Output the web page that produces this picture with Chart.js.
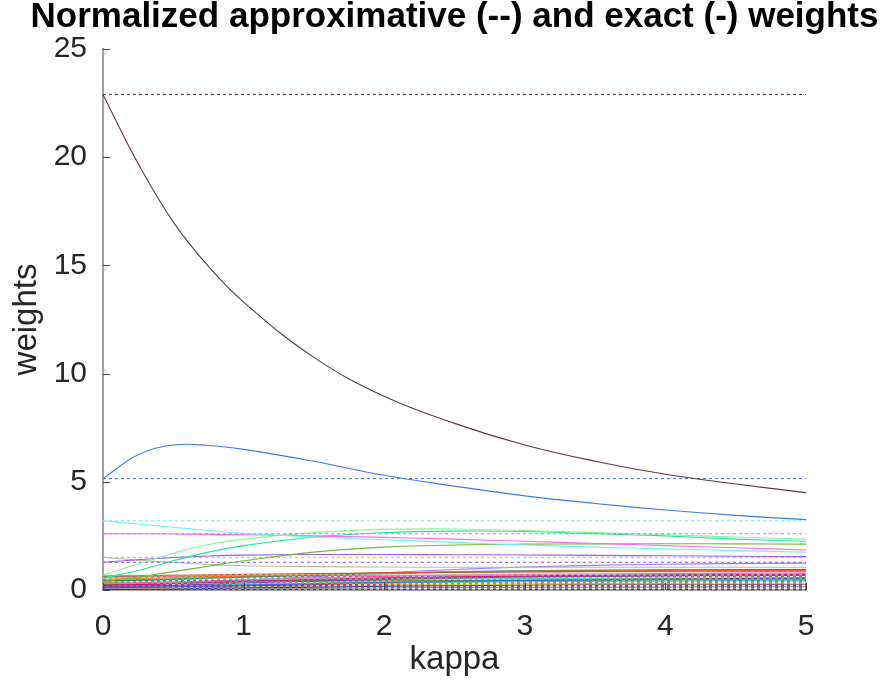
<!DOCTYPE html>
<html>
<head>
<meta charset="utf-8">
<script src="https://cdn.jsdelivr.net/npm/chart.js@4/dist/chart.umd.min.js"></script>
<style>
  html, body { margin: 0; padding: 0; background: #fff; }
  #wrap { width: 883px; height: 682px; }
</style>
</head>
<body>
<div id="wrap"><canvas id="weights" width="883" height="682"></canvas></div>
<script>
// kappa samples of the exact curves
const kappa = [0, 0.25, 0.5, 0.75, 1, 1.5, 2, 2.5, 3, 3.5, 4, 4.5, 5];

const lineColors = [
  '#5c3b3d', '#3f78f2', '#66f5f5', '#ff66f2', '#86f59a', '#1ee895', '#78b43a', '#9a5cf0', '#bcbc9c',
  '#e8403a', '#ff7f2a', '#2e8b57', '#ff5cc8', '#c71585', '#7b3fbf', '#3d5cff', '#34c6f0', '#e6e03a',
  '#a3a23a', '#1fb39a', '#9e1f4f', '#a0612e', '#7ddc3a', '#9b7bff', '#ff8c8c', '#2b2b9c', '#3cc47c',
  '#d4a017', '#8c8c8c', '#8a1a8a', '#36e0d0'
];

// approximative weights (constant in kappa)
const approxWeights = [
  22.9, 5.15, 3.2, 2.6, 0.7, 0.55, 0.38, 1.28, 1.51,
  0.65, 0.5, 0.42, 0.3, 0.22, 0.15, 0.1, 0.18, 0.08,
  0.35, 0.45, 0.05, 0.25, 0.12, 0.2, 0.58, 0.03, 0.62,
  0.14, 0.02, 0.07, 0.28
];

// exact weights, one row per series, sampled at kappa
const exactWeights = [
  [22.9, 19.7, 17.0, 14.95, 13.3, 10.75, 8.95, 7.7, 6.7, 5.95, 5.35, 4.9, 4.5],
  [5.15, 6.25, 6.7, 6.68, 6.5, 5.95, 5.3, 4.8, 4.35, 4.0, 3.7, 3.45, 3.25],
  [3.2, 3.05, 2.9, 2.75, 2.62, 2.45, 2.32, 2.2, 2.08, 1.98, 1.9, 1.82, 1.75],
  [2.6, 2.6, 2.59, 2.57, 2.55, 2.5, 2.43, 2.35, 2.25, 2.15, 2.05, 1.95, 1.85],
  [0.7, 1.2, 1.7, 2.1, 2.35, 2.65, 2.8, 2.82, 2.75, 2.65, 2.55, 2.45, 2.35],
  [0.55, 0.9, 1.35, 1.75, 2.05, 2.45, 2.65, 2.72, 2.7, 2.6, 2.5, 2.35, 2.25],
  [0.38, 0.6, 0.85, 1.1, 1.35, 1.75, 1.98, 2.08, 2.12, 2.13, 2.14, 2.13, 2.12],
  [1.28, 1.4, 1.5, 1.57, 1.61, 1.64, 1.64, 1.63, 1.62, 1.6, 1.58, 1.56, 1.54],
  [1.51, 1.38, 1.27, 1.18, 1.12, 1.08, 1.06, 1.05, 1.05, 1.05, 1.05, 1.05, 1.05],
  [0.65, 0.66, 0.68, 0.7, 0.72, 0.76, 0.79, 0.82, 0.84, 0.86, 0.87, 0.88, 0.89],
  [0.5, 0.53, 0.57, 0.61, 0.65, 0.72, 0.78, 0.83, 0.86, 0.88, 0.89, 0.9, 0.9],
  [0.42, 0.45, 0.49, 0.54, 0.59, 0.68, 0.76, 0.82, 0.87, 0.9, 0.92, 0.93, 0.94],
  [0.3, 0.33, 0.37, 0.42, 0.47, 0.56, 0.63, 0.68, 0.72, 0.74, 0.76, 0.77, 0.78],
  [0.22, 0.25, 0.3, 0.35, 0.4, 0.49, 0.56, 0.61, 0.65, 0.68, 0.7, 0.71, 0.72],
  [0.15, 0.18, 0.22, 0.27, 0.32, 0.41, 0.49, 0.55, 0.6, 0.63, 0.65, 0.66, 0.67],
  [0.1, 0.12, 0.15, 0.18, 0.22, 0.29, 0.35, 0.4, 0.44, 0.47, 0.49, 0.5, 0.51],
  [0.18, 0.19, 0.21, 0.23, 0.25, 0.29, 0.33, 0.36, 0.38, 0.4, 0.41, 0.42, 0.42],
  [0.08, 0.09, 0.11, 0.13, 0.15, 0.19, 0.22, 0.25, 0.27, 0.28, 0.29, 0.3, 0.3],
  [0.35, 0.36, 0.37, 0.38, 0.39, 0.41, 0.43, 0.44, 0.45, 0.46, 0.46, 0.47, 0.47],
  [0.45, 0.48, 0.52, 0.57, 0.62, 0.71, 0.79, 0.85, 0.89, 0.92, 0.93, 0.94, 0.94],
  [0.05, 0.07, 0.1, 0.14, 0.18, 0.26, 0.33, 0.39, 0.44, 0.48, 0.51, 0.53, 0.55],
  [0.25, 0.27, 0.3, 0.34, 0.38, 0.46, 0.53, 0.58, 0.62, 0.65, 0.67, 0.68, 0.69],
  [0.12, 0.14, 0.17, 0.21, 0.25, 0.32, 0.38, 0.43, 0.47, 0.5, 0.52, 0.53, 0.54],
  [0.2, 0.24, 0.3, 0.37, 0.45, 0.62, 0.8, 0.95, 1.06, 1.14, 1.19, 1.22, 1.24],
  [0.58, 0.6, 0.63, 0.66, 0.69, 0.74, 0.78, 0.81, 0.83, 0.84, 0.85, 0.85, 0.85],
  [0.03, 0.04, 0.05, 0.07, 0.09, 0.13, 0.17, 0.2, 0.23, 0.25, 0.27, 0.28, 0.29],
  [0.62, 0.62, 0.63, 0.64, 0.65, 0.67, 0.68, 0.69, 0.7, 0.7, 0.71, 0.71, 0.71],
  [0.14, 0.15, 0.16, 0.17, 0.19, 0.21, 0.23, 0.25, 0.26, 0.27, 0.28, 0.28, 0.28],
  [0.02, 0.02, 0.03, 0.04, 0.05, 0.07, 0.09, 0.11, 0.12, 0.13, 0.14, 0.15, 0.15],
  [0.07, 0.08, 0.1, 0.12, 0.14, 0.18, 0.21, 0.24, 0.26, 0.27, 0.28, 0.29, 0.29],
  [0.28, 0.3, 0.33, 0.36, 0.39, 0.44, 0.48, 0.51, 0.53, 0.54, 0.55, 0.56, 0.56]
];

const xTicks = [0, 1, 2, 3, 4, 5];
const yTicks = [0, 5, 10, 15, 20, 25];
const titleText = 'Normalized approximative (--) and exact (-) weights';

const datasets = [];
exactWeights.forEach((row, i) => {
  datasets.push({
    data: row.map((w, j) => ({ x: kappa[j], y: w })),
    borderColor: lineColors[i],
    borderWidth: 1.1,
    pointRadius: 0,
    tension: 0.4,
    fill: false
  });
  datasets.push({
    data: [{ x: kappa[0], y: approxWeights[i] }, { x: kappa[kappa.length - 1], y: approxWeights[i] }],
    borderColor: lineColors[i],
    borderWidth: 1.1,
    borderDash: [3, 3],
    pointRadius: 0,
    fill: false
  });
});

// title + inward tick marks like the octave figure
const figureExtras = {
  id: 'figureExtras',
  afterDraw(chart) {
    const c = chart.ctx;
    const a = chart.chartArea;
    const xs = chart.scales.x, ys = chart.scales.y;
    c.save();
    c.strokeStyle = '#444';
    c.lineWidth = 1;
    c.beginPath();
    xTicks.forEach(t => {
      const px = Math.round(xs.getPixelForValue(t)) + 0.5;
      c.moveTo(px, a.bottom);
      c.lineTo(px, a.bottom - 7);
    });
    yTicks.forEach(t => {
      const py = Math.round(ys.getPixelForValue(t)) + 0.5;
      c.moveTo(a.left, py);
      c.lineTo(a.left + 7, py);
    });
    c.stroke();
    c.fillStyle = '#000';
    c.font = 'bold 35px "Liberation Sans", Arial, sans-serif';
    c.textAlign = 'center';
    c.textBaseline = 'alphabetic';
    c.fillText(titleText, (a.left + a.right) / 2, 27);
    c.restore();
  }
};

const ctx = document.getElementById('weights').getContext('2d');
new Chart(ctx, {
  type: 'line',
  data: { datasets: datasets },
  options: {
    responsive: false,
    animation: false,
    layout: { padding: { top: 49, right: 77, left: 0, bottom: 0 } },
    plugins: {
      legend: { display: false },
      title: { display: false },
      tooltip: { enabled: false }
    },
    scales: {
      x: {
        type: 'linear',
        min: 0,
        max: 5,
        afterFit: s => { s.height = 92; },
        afterBuildTicks: s => { s.ticks = xTicks.map(v => ({ value: v })); },
        grid: { drawOnChartArea: false, drawTicks: false },
        border: { color: '#a0a0a0', width: 2 },
        ticks: {
          padding: 19,
          color: '#262626',
          font: { family: '"Liberation Sans", Arial, sans-serif', size: 30 }
        },
        title: {
          display: true,
          text: 'kappa',
          color: '#262626',
          padding: { top: 0, bottom: 2 },
          font: { family: '"Liberation Sans", Arial, sans-serif', size: 33 }
        }
      },
      y: {
        type: 'linear',
        min: 0,
        max: 25,
        afterFit: s => { s.width = 103; },
        afterBuildTicks: s => { s.ticks = yTicks.map(v => ({ value: v })); },
        grid: { drawOnChartArea: false, drawTicks: false },
        border: { color: '#a0a0a0', width: 2 },
        ticks: {
          padding: 16,
          color: '#262626',
          font: { family: '"Liberation Sans", Arial, sans-serif', size: 30 }
        },
        title: {
          display: true,
          text: 'weights',
          color: '#262626',
          padding: { top: 7, bottom: 0 },
          font: { family: '"Liberation Sans", Arial, sans-serif', size: 33 }
        }
      }
    }
  },
  plugins: [figureExtras]
});
</script>
</body>
</html>
